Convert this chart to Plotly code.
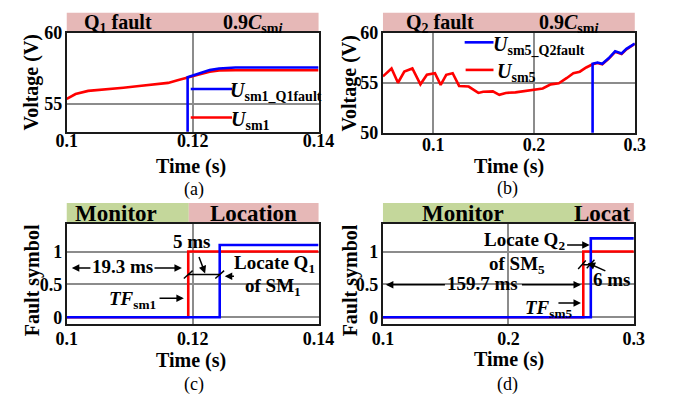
import plotly.graph_objects as go

W, H = 695, 408

# ---------------- data ----------------
# (a) capacitor voltage of SM1
t_a_sm1 = [0.1, 0.1014, 0.1034, 0.1065, 0.109, 0.1115, 0.1141, 0.1161, 0.1176,
           0.1192, 0.1207, 0.1227, 0.1242, 0.1268, 0.14]
u_a_sm1 = [55.36, 55.7, 55.92, 56.03, 56.14, 56.26, 56.37, 56.48, 56.66,
           56.88, 57.04, 57.26, 57.36, 57.37, 57.37]
t_a_q1f = [0.1, 0.1192, 0.1192, 0.1207, 0.1227, 0.1242, 0.1268, 0.14]
u_a_q1f = [0, 0, 56.88, 57.08, 57.38, 57.49, 57.56, 57.56]

# (b) capacitor voltage of SM5
t_b_sm5 = [0.05, 0.0585, 0.0649, 0.0712, 0.0792, 0.0872, 0.0936, 0.1016, 0.1073,
           0.1128, 0.1192, 0.1256, 0.1351, 0.1447, 0.1495, 0.1591, 0.1655, 0.1719,
           0.1815, 0.1911, 0.2006, 0.2086, 0.2166, 0.2246, 0.2326, 0.239, 0.2454,
           0.2518, 0.2581, 0.263, 0.2677, 0.274, 0.2805, 0.2869, 0.2917, 0.3]
u_b_sm5 = [55.64, 56.43, 55.0, 56.11, 56.43, 54.84, 55.8, 55.96, 54.78,
           55.8, 55.96, 54.68, 54.62, 53.98, 54.1, 54.14, 53.79, 53.98,
           54.04, 54.17, 54.3, 54.43, 54.84, 54.94, 55.48, 55.96, 56.11,
           56.53, 56.85, 56.97, 56.85, 57.39, 58.09, 57.87, 58.34, 58.89]
t_b_q2f = [0.05, 0.2581, 0.2581, 0.263, 0.2677, 0.274, 0.2805, 0.2869, 0.2917, 0.3]
u_b_q2f = [0, 0, 56.9, 57.02, 56.9, 57.45, 58.15, 57.93, 58.4, 58.93]

# (c) fault symbols, Q1 of SM1
t_c_tf = [0.1, 0.1193, 0.14]
s_c_tf = [0, 1, 1]
t_c_loc = [0.1, 0.1243, 0.14]
s_c_loc = [0, 1.1, 1.1]

# (d) fault symbols, Q2 of SM5
t_d_tf = [0.1, 0.2597, 0.3]
s_d_tf = [0, 1, 1]
t_d_loc = [0.1, 0.2657, 0.3]
s_d_loc = [0, 1.2, 1.2]

# tick labels
xt_a = [0.1, 0.12, 0.14]
xt_b = [0.1, 0.2, 0.3]
yt_ab_a = [55, 60]
yt_ab_b = [50, 55, 60]
yt_cd = [0, 0.5, 1]

RED = "#ff0000"
BLUE = "#0000ff"
PINK = "#e6b8b7"
GREEN = "#c4d79b"
FONT = "Liberation Serif"

fig = go.Figure()

def line(x, y, color, xa, ya, shape="linear"):
    fig.add_trace(go.Scatter(x=x, y=y, mode="lines", xaxis=xa, yaxis=ya,
                             line=dict(color=color, width=2.6, shape=shape),
                             showlegend=False, hoverinfo="skip"))

line(t_a_sm1, u_a_sm1, RED, "x", "y")
line(t_a_q1f, u_a_q1f, BLUE, "x", "y")
line(t_b_sm5, u_b_sm5, RED, "x2", "y2")
line(t_b_q2f, u_b_q2f, BLUE, "x2", "y2")
line(t_c_tf, s_c_tf, RED, "x3", "y3", "hv")
line(t_c_loc, s_c_loc, BLUE, "x3", "y3", "hv")
line(t_d_tf, s_d_tf, RED, "x4", "y4", "hv")
line(t_d_loc, s_d_loc, BLUE, "x4", "y4", "hv")

def px(x):
    return x / W

def py(y):
    return 1 - y / H

def dom_x(a, b):
    return [px(a), px(b)]

def dom_y(top, bottom):
    return [py(bottom), py(top)]

axis_common = dict(showline=True, mirror=True, linecolor="#1a1a1a", linewidth=2,
                   showgrid=True, gridcolor="#8c8c8c", gridwidth=1.6,
                   zeroline=False, ticks="",
                   tickfont=dict(family=FONT, size=18, color="black", weight="bold"))
ycommon = dict(axis_common, ticklabelstandoff=-1)

fig.update_layout(
    width=W, height=H, margin=dict(l=0, r=0, t=0, b=0),
    paper_bgcolor="white", plot_bgcolor="white",
    font=dict(family=FONT, color="black"),
    xaxis=dict(domain=dom_x(58, 320), anchor="y", range=[0.1, 0.14],
               tickvals=xt_a, ticktext=["0.1", "0.12", "0.14"],
               ticklabelstandoff=-8, **axis_common),
    yaxis=dict(domain=dom_y(24, 128), anchor="x", range=[53.05, 60],
               tickvals=yt_ab_a, **ycommon),
    xaxis2=dict(domain=dom_x(387, 649), anchor="y2", range=[0.05, 0.3],
                tickvals=xt_b, ticktext=["0.1", "0.2", "0.3"],
                ticklabelstandoff=-5, **axis_common),
    yaxis2=dict(domain=dom_y(24, 129), anchor="x2", range=[50, 60],
                tickvals=yt_ab_b, **ycommon),
    xaxis3=dict(domain=dom_x(58, 320), anchor="y3", range=[0.1, 0.14],
                tickvals=xt_a, ticktext=["0.1", "0.12", "0.14"],
                ticklabelstandoff=-2, **axis_common),
    yaxis3=dict(domain=dom_y(225, 330), anchor="x3", range=[-0.1, 1.42],
                tickvals=yt_cd, ticktext=["0", "0.5", "1"], **ycommon),
    xaxis4=dict(domain=dom_x(387, 648), anchor="y4", range=[0.1, 0.3],
                tickvals=xt_b, ticktext=["0.1", "0.2", "0.3"],
                ticklabelstandoff=-2, **axis_common),
    yaxis4=dict(domain=dom_y(225, 330), anchor="x4", range=[-0.1, 1.42],
                tickvals=yt_cd, ticktext=["0", "0.5", "1"], **ycommon),
)

shapes = []
annots = []

def band(x0, x1, y0, y1, color):
    shapes.append(dict(type="rect", xref="paper", yref="paper",
                       x0=px(x0), x1=px(x1), y0=py(y1), y1=py(y0),
                       fillcolor=color, line=dict(width=0), layer="below"))

def text(x, y, s, size=20, bold=True, xanchor="center", angle=0):
    if bold:
        s = "<b>" + s + "</b>"
    annots.append(dict(xref="paper", yref="paper", x=px(x), y=py(y), text=s,
                       showarrow=False, xanchor=xanchor, yanchor="middle",
                       textangle=angle, borderpad=0,
                       font=dict(family=FONT, size=size, color="black")))

# header bands
band(58, 320, 3, 24, PINK)
band(387, 649, 3, 24, PINK)
band(58, 185, 203, 225, GREEN)
band(185, 320, 203, 225, PINK)
band(387, 593, 203, 225, GREEN)
band(593, 648, 203, 225, PINK)

text(111, 14, "Q<sub>1</sub> fault", 20)
text(251, 14, "0.9<i>C</i><sub>sm<i>i</i></sub>", 20)
text(446, 14, "Q<sub>2</sub> fault", 20)
text(580, 14, "0.9<i>C</i><sub>sm<i>i</i></sub>", 20)
text(109, 214, "Monitor", 23)
text(252, 214, "Location", 23)
text(470, 214, "Monitor", 23)
text(646, 214, "Locat", 23, xanchor="right")

# axis titles and captions
for cx, cy in [(21, 76), (352, 77)]:
    text(cx, cy, "Voltage (V)", 20, angle=-90)
for cx, cy in [(22, 284), (353, 284)]:
    text(cx, cy, "Fault symbol", 20, angle=-90)
for cx, cy in [(187, 165), (518, 165), (187, 369), (518, 368)]:
    text(cx, cy, "Time (s)", 20)
for (cx, cy), s in zip([(190, 189), (517, 188), (190, 394), (517, 394)],
                       ["(a)", "(b)", "(c)", "(d)"]):
    text(cx, cy, s, 18, bold=False)

# in-plot legends
def legend_key(x0, x1, y, color):
    shapes.append(dict(type="line", xref="paper", yref="paper",
                       x0=px(x0), x1=px(x1), y0=py(y), y1=py(y),
                       line=dict(color=color, width=2.6)))

legend_key(187, 230, 83, BLUE)
text(227, 86, "<i>U</i><sub>sm1_Q1fault</sub>", 20, xanchor="left")
legend_key(187, 230, 113, RED)
text(228, 116, "<i>U</i><sub>sm1</sub>", 20, xanchor="left")
legend_key(472, 502, 34, BLUE)
text(500, 37, "<i>U</i><sub>sm5_Q2fault</sub>", 20, xanchor="left")
legend_key(473, 502, 63, RED)
text(505, 66, "<i>U</i><sub>sm5</sub>", 20, xanchor="left")

# data-space annotations (c), (d)
def dtext(xa, ya, x, y, s, size=19):
    annots.append(dict(xref=xa, yref=ya, x=x, y=y, text="<b>" + s + "</b>",
                       showarrow=False, xanchor="center", yanchor="middle",
                       font=dict(family=FONT, size=size, color="black")))

def arrow(xa, ya, x0, y0, x1, y1):
    annots.append(dict(xref=xa, yref=ya, axref=xa, ayref=ya, x=x1, y=y1,
                       ax=x0, ay=y0, text="", showarrow=True, arrowhead=2,
                       arrowsize=1, arrowwidth=1.5, arrowcolor="black",
                       standoff=0, startstandoff=0))

def seg(xa, ya, x0, y0, x1, y1):
    shapes.append(dict(type="line", xref=xa, yref=ya, x0=x0, y0=y0, x1=x1, y1=y1,
                       line=dict(color="black", width=1.4)))

# (c)
dtext("x3", "y3", 0.1089, 0.77, "19.3 ms")
arrow("x3", "y3", 0.1040, 0.75, 0.1008, 0.75)
arrow("x3", "y3", 0.1137, 0.75, 0.1183, 0.75)
dtext("x3", "y3", 0.11985, 1.16, "5 ms")
arrow("x3", "y3", 0.12092, 0.94, 0.12198, 0.667)
seg("x3", "y3", 0.1193, 0.65, 0.1243, 0.65)
seg("x3", "y3", 0.1186, 0.59, 0.1200, 0.71)
seg("x3", "y3", 0.1236, 0.59, 0.1250, 0.71)
dtext("x3", "y3", 0.1330, 0.81, "Locate Q<sub>1</sub>")
dtext("x3", "y3", 0.1327, 0.46, "of SM<sub>1</sub>")
arrow("x3", "y3", 0.1268, 0.623, 0.1251, 0.623)
dtext("x3", "y3", 0.1105, 0.27, "<i>TF</i><sub>sm1</sub>")
arrow("x3", "y3", 0.1145, 0.29, 0.1186, 0.29)

# (d)
dtext("x4", "y4", 0.2126, 1.16, "Locate Q<sub>2</sub>")
arrow("x4", "y4", 0.2456, 1.10, 0.2648, 1.10)
dtext("x4", "y4", 0.2065, 0.79, "of SM<sub>5</sub>")
dtext("x4", "y4", 0.1797, 0.507, "159.7 ms")
arrow("x4", "y4", 0.1506, 0.493, 0.1023, 0.493)
arrow("x4", "y4", 0.2096, 0.493, 0.2579, 0.493)
dtext("x4", "y4", 0.2824, 0.58, "6 ms")
arrow("x4", "y4", 0.2785, 0.696, 0.2632, 0.826)
seg("x4", "y4", 0.2597, 0.80, 0.2657, 0.80)
seg("x4", "y4", 0.2556, 0.735, 0.2617, 0.865)
seg("x4", "y4", 0.2625, 0.745, 0.2686, 0.875)
dtext("x4", "y4", 0.2326, 0.125, "<i>TF</i><sub>sm5</sub>")
arrow("x4", "y4", 0.2387, 0.217, 0.2579, 0.217)

fig.update_layout(shapes=shapes, annotations=annots)
fig.write_html("out.html")
